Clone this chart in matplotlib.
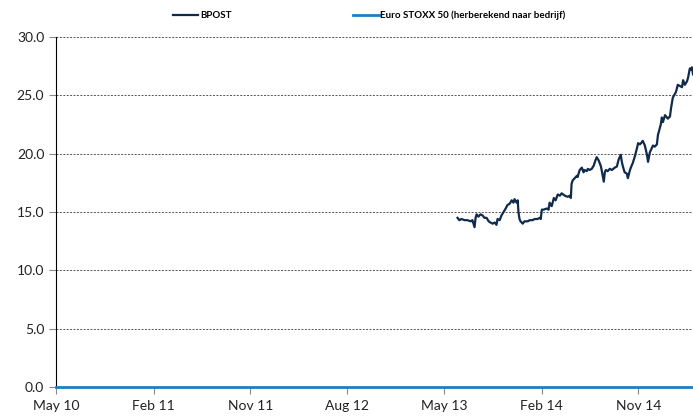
import matplotlib
matplotlib.use("Agg")
import matplotlib.dates as mdates
import pandas as pd
from matplotlib import pyplot as plt
from matplotlib.ticker import FormatStrFormatter

plt.rcParams["font.family"] = ["Lato", "DejaVu Sans"]

# BPOST share price
bpost_dates = [
    "2013-06-08", "2013-06-13", "2013-06-19", "2013-06-28", "2013-07-06",
    "2013-07-15", "2013-07-20", "2013-07-26", "2013-07-29", "2013-08-01",
    "2013-08-06", "2013-08-12", "2013-08-18", "2013-08-23", "2013-08-29",
    "2013-09-04", "2013-09-09", "2013-09-15", "2013-09-21", "2013-09-26",
    "2013-09-29", "2013-10-05", "2013-10-10", "2013-10-16", "2013-10-22",
    "2013-10-27", "2013-11-02", "2013-11-08", "2013-11-13", "2013-11-16",
    "2013-11-22", "2013-11-25", "2013-11-27", "2013-11-30", "2013-12-03",
    "2013-12-09", "2013-12-14", "2013-12-23", "2013-12-29", "2014-01-06",
    "2014-01-12", "2014-01-20", "2014-01-26", "2014-01-29", "2014-02-01",
    "2014-02-06", "2014-02-15", "2014-02-20", "2014-02-23", "2014-03-01",
    "2014-03-07", "2014-03-12", "2014-03-18", "2014-03-24", "2014-03-29",
    "2014-04-07", "2014-04-15", "2014-04-21", "2014-04-24", "2014-04-26",
    "2014-04-29", "2014-05-05", "2014-05-11", "2014-05-13", "2014-05-19",
    "2014-05-25", "2014-05-30", "2014-06-02", "2014-06-08", "2014-06-11",
    "2014-06-16", "2014-06-22", "2014-06-28", "2014-07-01", "2014-07-06",
    "2014-07-12", "2014-07-18", "2014-07-20", "2014-07-23", "2014-07-26",
    "2014-07-29", "2014-08-01", "2014-08-06", "2014-08-12", "2014-08-18",
    "2014-08-26", "2014-09-01", "2014-09-06", "2014-09-12", "2014-09-15",
    "2014-09-18", "2014-09-23", "2014-09-29", "2014-10-02", "2014-10-08",
    "2014-10-13", "2014-10-16", "2014-10-22", "2014-10-28", "2014-10-31",
    "2014-11-05", "2014-11-11", "2014-11-13", "2014-11-19", "2014-11-25",
    "2014-11-28", "2014-12-03", "2014-12-12", "2014-12-17", "2014-12-23",
    "2014-12-26", "2015-01-03", "2015-01-06", "2015-01-09", "2015-01-15",
    "2015-01-23", "2015-01-29", "2015-02-01", "2015-02-06", "2015-02-15",
    "2015-02-20", "2015-02-26", "2015-03-04", "2015-03-07", "2015-03-12",
    "2015-03-18", "2015-03-21", "2015-03-26", "2015-03-29", "2015-04-01",
    "2015-04-04",
]
bpost_values = [
    14.5, 14.3, 14.4, 14.3, 14.3,
    14.2, 14.3, 13.7, 14.5, 14.8,
    14.6, 14.8, 14.7, 14.5, 14.5,
    14.2, 14.1, 14.0, 14.1, 13.9,
    14.4, 14.3, 14.7, 15.0, 15.3,
    15.6, 15.7, 16.0, 15.8, 16.1,
    15.8, 16.0, 15.0, 14.4, 14.2,
    14.0, 14.2, 14.2, 14.3, 14.3,
    14.4, 14.4, 14.5, 14.4, 15.2,
    15.2, 15.3, 15.2, 15.8, 15.5,
    16.2, 16.0, 16.5, 16.4, 16.6,
    16.4, 16.3, 16.4, 16.2, 17.4,
    17.7, 17.9, 18.1, 18.0, 18.6,
    18.8, 18.4, 18.6, 18.5, 18.7,
    18.6, 18.7, 19.0, 19.3, 19.7,
    19.4, 18.9, 18.6, 18.1, 17.6,
    18.4, 18.6, 18.5, 18.7, 18.6,
    18.8, 18.9, 19.5, 19.9, 19.3,
    18.9, 18.4, 18.3, 17.9, 18.6,
    19.0, 19.2, 19.8, 20.5, 20.9,
    20.8, 21.0, 21.1, 20.7, 19.9,
    19.3, 20.1, 20.7, 20.6, 20.8,
    21.6, 22.5, 23.1, 22.7, 23.3,
    23.0, 23.2, 23.9, 24.8, 25.3,
    25.9, 25.8, 25.7, 26.3, 25.9,
    26.2, 26.5, 27.3, 27.2, 27.4,
    26.8,
]

# Euro STOXX 50 (rebased to company) sits flat at zero over the whole window
stoxx_dates = ["2010-05-01", "2015-04-04"]
stoxx_values = [0.0, 0.0]

tick_dates = ["2010-05-01", "2011-02-01", "2011-11-01", "2012-08-01",
              "2013-05-01", "2014-02-01", "2014-11-01"]
y_ticks = [0, 5, 10, 15, 20, 25, 30]

fig = plt.figure(figsize=(6.93, 4.18), dpi=100)
ax = fig.add_axes([56 / 693, 31 / 418, 637 / 693, 350 / 418])

ax.plot(pd.to_datetime(stoxx_dates), stoxx_values, color="#1f7dc0",
        linewidth=2.0, label="Euro STOXX 50 (herberekend naar bedrijf)",
        clip_on=False, zorder=3)
ax.plot(pd.to_datetime(bpost_dates), bpost_values, color="#0f2a4a",
        linewidth=1.6, label="BPOST", zorder=4)

ax.set_xlim(pd.Timestamp(stoxx_dates[0]), pd.Timestamp(stoxx_dates[-1]))
ax.set_ylim(0, 30)
ax.set_xticks(pd.to_datetime(tick_dates))
ax.xaxis.set_major_formatter(mdates.DateFormatter("%b %y"))
ax.set_yticks(y_ticks)
ax.yaxis.set_major_formatter(FormatStrFormatter("%.1f"))

ax.grid(axis="y", linestyle=(0, (2, 1.5)), color="#555555", linewidth=0.7)
ax.set_axisbelow(True)
for side in ["top", "right", "bottom"]:
    ax.spines[side].set_visible(False)
ax.spines["left"].set_linewidth(0.8)
ax.tick_params(axis="both", colors="#888888", labelcolor="#222222",
               labelsize=10, length=5)
ax.tick_params(axis="x", pad=4)

handles, labels = ax.get_legend_handles_labels()
fig.legend(handles[::-1], labels[::-1], loc="upper center",
           bbox_to_anchor=(0.533, 0.995), ncol=2, frameon=False,
           prop={"weight": "bold", "size": 7}, handlelength=2.6,
           handletextpad=0.2, columnspacing=12.5)

fig.savefig("out.png", dpi=100)
